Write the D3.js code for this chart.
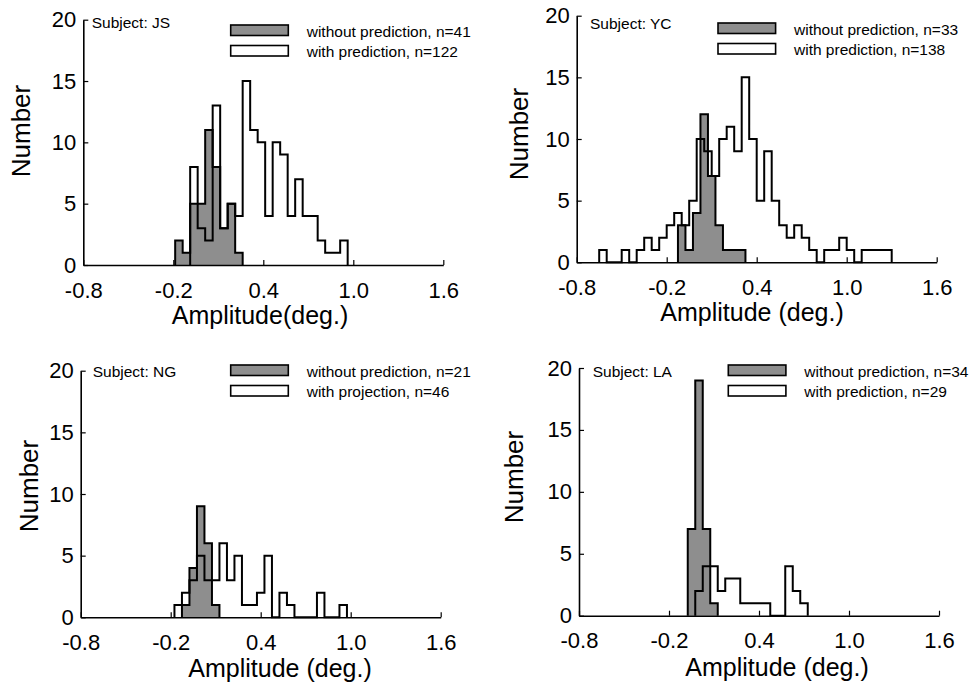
<!DOCTYPE html>
<html>
<head>
<meta charset="utf-8">
<script src="https://cdn.jsdelivr.net/npm/d3@7"></script>
<style>
  body { margin: 0; background: #fff; }
  svg { display: block; font-family: 'Liberation Sans', Arial, Helvetica, sans-serif; }
</style>
</head>
<body>
<div id="chart"></div>
<script>
// ---- data ----
const subjects = ['JS', 'YC', 'NG', 'LA'];
const withoutN = [41, 33, 21, 34];
const withN = [122, 138, 46, 29];
const withLabels = ['with prediction', 'with prediction', 'with projection', 'with prediction'];
const xTitles = ['Amplitude(deg.)', 'Amplitude (deg.)', 'Amplitude (deg.)', 'Amplitude (deg.)'];

const xTicks = [-0.8, -0.2, 0.4, 1.0, 1.6];
const xTickLabels = ['-0.8', '-0.2', '0.4', '1.0', '1.6'];
const yTicks = [0, 5, 10, 15, 20];

const binWidth = 0.05;
// left edge of the first bin, per subject
const withoutStart = [-0.1875, -0.125, -0.125, -0.075];
const withStart = [-0.0875, -0.65, -0.175, -0.025];

// counts per bin (without prediction = grey)
const withoutCounts = [
  [2, 1, 5, 5, 11, 8, 3, 5, 1],
  [3, 1, 4, 12, 7, 3, 1, 1, 1],
  [1, 4, 9, 6, 1],
  [7, 19, 7, 1]
];
// counts per bin (with prediction = open)
const withCounts = [
  [8, 3, 2, 13, 3, 5, 4, 15, 11, 10, 4, 10, 9, 4, 7, 4, 4, 2, 1, 1, 2],
  [1, 0, 0, 1, 0, 1, 2, 1, 2, 3, 4, 3, 5, 10, 9, 7, 10, 11, 9, 15, 10, 5, 9, 5,
   3, 2, 3, 2, 1, 0, 1, 1, 2, 1, 0, 1, 1, 1, 1],
  [1, 2, 3, 5, 3, 3, 6, 3, 5, 1, 1, 2, 5, 0, 2, 1, 0, 0, 0, 2, 0, 0, 1],
  [2, 4, 4, 2, 3, 3, 1, 1, 1, 1, 0, 0, 4, 2, 1]
];

// ---- layout of the four panels ----
const panels = [
  { ox: 83.3, base: 265, top: 19.7, pad: 17, subjX: 91.7, subjY: 28, legX: 230.7, legY: 25, numX: 21, numY: 131, titleX: 260, titleY: 324 },
  { ox: 576.7, base: 262.3, top: 15.7, pad: 17, subjX: 590, subjY: 28.5, legX: 718, legY: 23, numX: 519, numY: 134, titleX: 752, titleY: 321 },
  { ox: 80.7, base: 617.3, top: 370.7, pad: 17, subjX: 92.7, subjY: 377, legX: 230.7, legY: 365, numX: 29, numY: 486, titleX: 280, titleY: 677 },
  { ox: 579, base: 615.7, top: 368, pad: 17, subjX: 592.7, subjY: 377, legX: 728.3, legY: 365, numX: 514, numY: 477, titleX: 777, titleY: 676 }
];
const axisLen = 360;
const grey = '#8e8e8e';

const svg = d3.select('#chart')
  .append('svg')
  .attr('width', 971)
  .attr('height', 683);

// step outline through bin edges
const stepPoints = (start, counts) => {
  const pts = [[start, 0]];
  counts.forEach((c, i) => pts.push([start + i * binWidth, c]));
  pts.push([start + counts.length * binWidth, 0]);
  return pts;
};

panels.forEach((p, k) => {
  const x = d3.scaleLinear().domain([-0.8, 1.6]).range([p.ox, p.ox + axisLen]);
  const y = d3.scaleLinear().domain([0, 20]).range([p.base, p.top]);
  const g = svg.append('g');

  const line = d3.line()
    .x(d => x(d[0]))
    .y(d => y(d[1]))
    .curve(d3.curveStepAfter);

  // grey histogram (without prediction)
  g.append('path')
    .attr('d', line(stepPoints(withoutStart[k], withoutCounts[k])))
    .attr('fill', grey)
    .attr('stroke', '#000')
    .attr('stroke-width', 2);

  // open histogram (with prediction), drawn on top
  g.append('path')
    .attr('d', line(stepPoints(withStart[k], withCounts[k])))
    .attr('fill', 'none')
    .attr('stroke', '#000')
    .attr('stroke-width', 2);

  // axes
  const xAxis = g.append('g')
    .attr('transform', `translate(0,${p.base})`)
    .call(d3.axisBottom(x)
      .tickValues(xTicks)
      .tickFormat((d, i) => xTickLabels[i])
      .tickSize(-5)
      .tickSizeOuter(0)
      .tickPadding(p.pad));
  const yAxis = g.append('g')
    .attr('transform', `translate(${p.ox},0)`)
    .call(d3.axisLeft(y)
      .tickValues(yTicks)
      .tickSize(-5)
      .tickSizeOuter(0)
      .tickPadding(7));

  [xAxis, yAxis].forEach(a => {
    a.select('.domain').attr('stroke', '#000').attr('stroke-width', 1.6);
    a.selectAll('.tick line').attr('stroke', '#000').attr('stroke-width', 1.2);
    a.selectAll('.tick text')
      .attr('fill', '#000')
      .style('font-size', '22px')
      .style('font-family', "'Liberation Sans', Arial, sans-serif");
  });
  yAxis.selectAll('.tick text').attr('dy', '0.32em');

  // axis titles
  g.append('text')
    .attr('x', p.titleX)
    .attr('y', p.titleY)
    .attr('text-anchor', 'middle')
    .style('font-size', '25px')
    .text(xTitles[k]);
  g.append('text')
    .attr('transform', `translate(${p.numX},${p.numY}) rotate(-90)`)
    .attr('text-anchor', 'middle')
    .attr('dy', '0.36em')
    .style('font-size', '26px')
    .text('Number');

  // subject
  g.append('text')
    .attr('x', p.subjX)
    .attr('y', p.subjY)
    .style('font-size', '15.5px')
    .text(`Subject: ${subjects[k]}`);

  // legend
  const leg = g.append('g').attr('transform', `translate(${p.legX},${p.legY})`);
  const items = [
    { fill: grey, label: `without prediction, n=${withoutN[k]}` },
    { fill: '#fff', label: `${withLabels[k]}, n=${withN[k]}` }
  ];
  items.forEach((it, i) => {
    leg.append('rect')
      .attr('x', 0)
      .attr('y', i * 20.5)
      .attr('width', 57.6)
      .attr('height', 10.5)
      .attr('fill', it.fill)
      .attr('stroke', '#000')
      .attr('stroke-width', 1.6);
    leg.append('text')
      .attr('x', 76)
      .attr('y', i * 20.5 + 11.5)
      .style('font-size', '15.5px')
      .text(it.label);
  });
});
</script>
</body>
</html>
